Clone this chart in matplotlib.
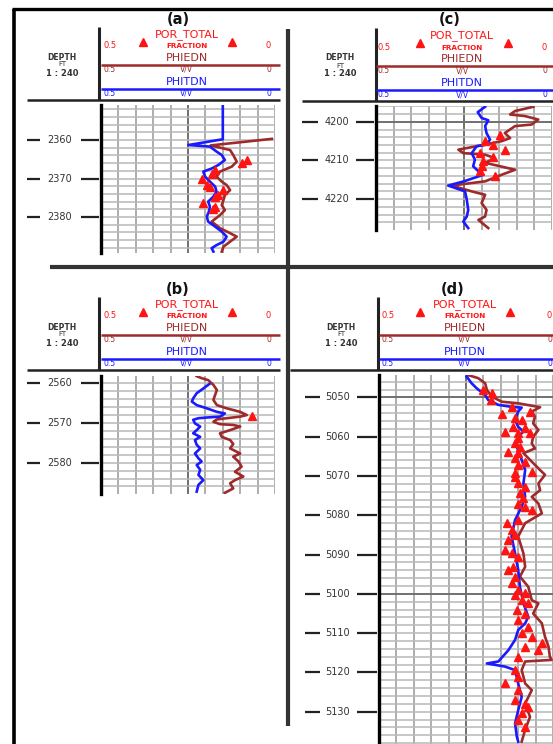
import numpy as np
import matplotlib
matplotlib.use("Agg")
import matplotlib.pyplot as plt
from matplotlib.transforms import blended_transform_factory

# --- DATA: porosity logs (v/v, depth in ft) ---
# (a)
A_PHIT_DEPTH = [2350.9, 2359.8, 2361.3, 2361.7, 2363.0, 2363.9, 2365.2, 2366.5, 2367.4, 2368.2,
                2369.5, 2370.8, 2372.1, 2373.4, 2374.7, 2376.0, 2377.3, 2378.6, 2379.9, 2381.2,
                2382.5, 2383.8, 2385.1, 2386.4, 2387.3, 2388.1, 2389.0]
A_PHIT = [0.150, 0.150, 0.249, 0.187, 0.168, 0.153, 0.144, 0.163, 0.182, 0.206,
          0.201, 0.187, 0.172, 0.168, 0.177, 0.192, 0.187, 0.190, 0.196, 0.192,
          0.172, 0.153, 0.139, 0.148, 0.168, 0.182, 0.177]
A_PHIE_DEPTH = [2359.7, 2361.4, 2362.6, 2363.9, 2365.6, 2366.9, 2368.2, 2369.5, 2370.8, 2371.7,
                2373.0, 2374.3, 2375.6, 2376.9, 2378.2, 2379.5, 2381.2, 2382.9, 2384.2, 2385.1,
                2386.4, 2387.7, 2389.0]
A_PHIE = [0.009, 0.185, 0.129, 0.120, 0.110, 0.124, 0.158, 0.168, 0.153, 0.139,
          0.129, 0.144, 0.148, 0.153, 0.144, 0.158, 0.182, 0.158, 0.129, 0.110,
          0.129, 0.148, 0.153]
A_POR_DEPTH = [2365.2, 2365.9, 2367.8, 2368.7, 2370.2, 2371.7, 2372.3, 2373.0, 2374.3, 2374.9,
               2376.4, 2377.3, 2378.0]
A_POR = [0.081, 0.096, 0.172, 0.182, 0.211, 0.196, 0.187, 0.148, 0.163, 0.172,
         0.206, 0.172, 0.177]

# (b)
B_PHIT_DEPTH = [2560.2, 2561.3, 2562.5, 2563.8, 2564.6, 2565.5, 2566.3, 2567.2, 2567.6, 2568.4,
                2568.6, 2568.8, 2569.2, 2570.1, 2570.9, 2571.8, 2572.6, 2573.5, 2574.3, 2575.5,
                2576.4, 2577.7, 2578.9, 2579.7, 2580.6, 2581.8, 2583.1, 2584.4, 2585.6, 2587.3]
B_PHIT = [0.189, 0.206, 0.225, 0.235, 0.239, 0.225, 0.196, 0.167, 0.144, 0.158,
          0.192, 0.220, 0.235, 0.230, 0.215, 0.225, 0.235, 0.215, 0.230, 0.225,
          0.215, 0.230, 0.220, 0.211, 0.225, 0.215, 0.220, 0.206, 0.220, 0.225]
B_PHIE_DEPTH = [2558.2, 2558.7, 2559.2, 2560.4, 2561.7, 2562.9, 2564.2, 2565.5, 2566.3, 2567.2,
                2568.0, 2568.4, 2568.8, 2569.1, 2569.7, 2570.3, 2570.5, 2570.9, 2571.8, 2572.6,
                2573.5, 2574.3, 2575.3, 2576.4, 2577.7, 2578.5, 2579.7, 2581.0, 2582.3, 2583.5,
                2584.4, 2585.2, 2586.5, 2587.6]
B_PHIE = [0.225, 0.211, 0.192, 0.177, 0.167, 0.172, 0.177, 0.167, 0.139, 0.100,
          0.081, 0.100, 0.139, 0.167, 0.177, 0.158, 0.120, 0.100, 0.129, 0.158,
          0.153, 0.129, 0.120, 0.129, 0.100, 0.120, 0.105, 0.096, 0.115, 0.091,
          0.115, 0.129, 0.120, 0.144]
B_POR_DEPTH = [2568.2]
B_POR = [0.067]

# (c)
C_PHIT_DEPTH = [4196.1, 4197.5, 4199.0, 4199.6, 4201.1, 4202.9, 4204.6, 4205.9, 4206.3, 4208.1,
                4209.8, 4211.5, 4212.8, 4213.7, 4215.4, 4216.5, 4218.0, 4220.2, 4222.8, 4224.5,
                4225.8, 4227.5]
C_PHIT = [0.190, 0.211, 0.200, 0.181, 0.190, 0.186, 0.176, 0.186, 0.214, 0.228,
          0.219, 0.224, 0.209, 0.195, 0.250, 0.295, 0.247, 0.242, 0.238, 0.242,
          0.252, 0.238]
C_PHIE_DEPTH = [4196.1, 4197.2, 4198.1, 4198.5, 4199.4, 4200.7, 4201.1, 4202.9, 4204.2, 4205.0,
                4205.9, 4207.2, 4208.1, 4208.5, 4209.4, 4210.6, 4212.4, 4213.7, 4215.4, 4216.5,
                4218.0, 4218.9, 4221.0, 4222.8, 4224.5, 4225.4, 4227.5]
C_PHIE = [0.053, 0.105, 0.119, 0.077, 0.039, 0.058, 0.105, 0.134, 0.119, 0.143,
          0.190, 0.266, 0.252, 0.190, 0.162, 0.190, 0.105, 0.143, 0.190, 0.285,
          0.228, 0.190, 0.200, 0.186, 0.190, 0.209, 0.181]
C_POR_DEPTH = [4203.3, 4205.0, 4205.9, 4207.2, 4208.1, 4209.1, 4210.2, 4211.5, 4212.8, 4213.9]
C_POR = [0.148, 0.190, 0.167, 0.134, 0.205, 0.167, 0.195, 0.200, 0.205, 0.162]

# (d)
D_PHIT_DEPTH = [5044.7, 5046.4, 5047.7, 5049.4, 5050.7, 5051.9, 5052.4, 5052.6, 5053.6, 5055.8,
                5057.5, 5058.7, 5060.0, 5061.7, 5063.4, 5065.9, 5068.5, 5071.9, 5075.3, 5077.8,
                5081.2, 5085.4, 5089.7, 5093.9, 5098.2, 5102.4, 5105.8, 5107.5, 5109.2, 5111.7,
                5114.3, 5117.2, 5117.7, 5118.5, 5119.4, 5122.8, 5126.2, 5129.6, 5133.0, 5136.3,
                5137.6]
D_PHIT = [0.248, 0.234, 0.219, 0.195, 0.186, 0.157, 0.119, 0.090, 0.100, 0.109,
          0.100, 0.085, 0.100, 0.109, 0.100, 0.090, 0.080, 0.085, 0.080, 0.090,
          0.109, 0.119, 0.109, 0.100, 0.095, 0.085, 0.071, 0.080, 0.100, 0.109,
          0.128, 0.157, 0.190, 0.138, 0.109, 0.100, 0.090, 0.100, 0.109, 0.104,
          0.100]
D_PHIE_DEPTH = [5044.3, 5045.1, 5046.4, 5048.1, 5049.8, 5051.1, 5051.5, 5052.5, 5053.6, 5054.9,
                5056.6, 5058.3, 5060.0, 5061.7, 5063.0, 5064.2, 5065.9, 5068.5, 5069.7, 5071.9,
                5073.6, 5075.3, 5077.0, 5079.5, 5082.0, 5085.4, 5089.7, 5093.1, 5095.6, 5098.2,
                5101.6, 5102.4, 5105.0, 5107.5, 5110.9, 5113.4, 5116.0, 5116.8, 5117.2, 5119.4,
                5122.8, 5124.5, 5127.9, 5131.3, 5134.6, 5137.6]
D_PHIE = [0.245, 0.215, 0.195, 0.190, 0.176, 0.147, 0.100, 0.037, 0.061, 0.052,
          0.057, 0.042, 0.057, 0.061, 0.052, 0.085, 0.066, 0.037, 0.023, 0.042,
          0.037, 0.061, 0.042, 0.032, 0.080, 0.100, 0.085, 0.080, 0.095, 0.071,
          0.061, 0.042, 0.057, 0.032, 0.023, 0.013, 0.009, 0.004, 0.080, 0.090,
          0.080, 0.061, 0.080, 0.066, 0.080, 0.090]
D_POR_DEPTH = [5048.1, 5049.0, 5050.7, 5052.4, 5053.6, 5054.3, 5055.3, 5055.8, 5057.5, 5057.9,
               5058.7, 5059.1, 5059.1, 5060.4, 5061.7, 5062.5, 5063.8, 5064.2, 5065.5, 5066.4,
               5067.2, 5068.9, 5069.3, 5070.2, 5071.9, 5072.7, 5074.4, 5075.7, 5077.0, 5077.8,
               5078.7, 5081.2, 5082.0, 5083.7, 5085.0, 5086.3, 5088.8, 5089.7, 5090.5, 5093.1,
               5093.9, 5095.6, 5097.3, 5099.0, 5099.9, 5100.3, 5101.6, 5102.4, 5104.1, 5105.0,
               5106.6, 5108.3, 5110.0, 5110.9, 5112.6, 5113.4, 5114.3, 5116.0, 5119.4, 5121.1,
               5122.8, 5124.5, 5127.0, 5127.9, 5128.7, 5130.4, 5132.1, 5133.8]
D_POR = [0.200, 0.176, 0.178, 0.119, 0.066, 0.147, 0.109, 0.090, 0.114, 0.080,
         0.138, 0.100, 0.066, 0.100, 0.109, 0.095, 0.128, 0.100, 0.109, 0.080,
         0.100, 0.061, 0.109, 0.109, 0.100, 0.080, 0.095, 0.085, 0.100, 0.080,
         0.061, 0.100, 0.133, 0.119, 0.109, 0.128, 0.138, 0.119, 0.100, 0.114,
         0.128, 0.109, 0.119, 0.100, 0.080, 0.109, 0.090, 0.071, 0.104, 0.080,
         0.100, 0.071, 0.090, 0.061, 0.032, 0.080, 0.042, 0.100, 0.109, 0.100,
         0.138, 0.100, 0.109, 0.080, 0.071, 0.090, 0.100, 0.080]

# --- STYLE ---
RED = "#ff1414"
BROWN = "#9e2a2b"
BLUE = "#1a1aff"
INK = "#222222"

W, H = 553, 744
fig = plt.figure(figsize=(W / 100, H / 100), dpi=100)

# full-figure overlay in pixel units for frame + headers
bg = fig.add_axes([0, 0, 1, 1], zorder=0)
bg.set_xlim(0, W)
bg.set_ylim(H, 0)
bg.axis("off")

# outer frame and dividers
bg.plot([13.5, 13.5], [8.5, H], color="black", lw=2.6, solid_capstyle="butt")
bg.plot([12, W], [8.5, 8.5], color="black", lw=2.4, solid_capstyle="butt")
bg.plot([288, 288], [29, 726], color="#333333", lw=3.0, solid_capstyle="butt")
bg.plot([50, W], [267, 267], color="#333333", lw=3.0, solid_capstyle="butt")

PANELS = [
    dict(name="(a)", title=(178, 20), base=0, hline=(27, 280), vline=99,
         track=(101, 275, 105, 253), depth=(2350.9, 2389.35), ticks=[2360, 2370, 2380],
         cx=187, lx=103, rx=271, tri=(143, 232), dcx=62,
         dash_l=(27, 40), lab=60, dash_r=(81, 99),
         data=(A_PHIT_DEPTH, A_PHIT, A_PHIE_DEPTH, A_PHIE, A_POR_DEPTH, A_POR)),
    dict(name="(b)", title=(178, 290), base=270, hline=(27, 280), vline=99,
         track=(101, 275, 376, 494), depth=(2558.16, 2587.9), ticks=[2560, 2570, 2580],
         cx=187, lx=103, rx=271, tri=(143, 232), dcx=62,
         dash_l=(27, 40), lab=60, dash_r=(81, 99),
         data=(B_PHIT_DEPTH, B_PHIT, B_PHIE_DEPTH, B_PHIE, B_POR_DEPTH, B_POR)),
    dict(name="(c)", title=(450, 20), base=1, hline=(302, W), vline=376,
         track=(376, 552, 106, 230), depth=(4195.9, 4228.0), ticks=[4200, 4210, 4220],
         cx=462, lx=378, rx=547, tri=(420, 508), dcx=340,
         dash_l=(302, 318), lab=337, dash_r=(356, 374),
         data=(C_PHIT_DEPTH, C_PHIT, C_PHIE_DEPTH, C_PHIE, C_POR_DEPTH, C_POR)),
    dict(name="(d)", title=(453, 290), base=270, hline=(290, W), vline=378,
         track=(379, 553, 375, 744), depth=(5044.3, 5138.2),
         ticks=[5050, 5060, 5070, 5080, 5090, 5100, 5110, 5120, 5130],
         cx=465, lx=382, rx=552, tri=(420, 510), dcx=341,
         dash_l=(305, 320), lab=338, dash_r=(357, 377),
         data=(D_PHIT_DEPTH, D_PHIT, D_PHIE_DEPTH, D_PHIE, D_POR_DEPTH, D_POR)),
]


def draw_header(p):
    b = p["base"]
    x0, x1 = p["track"][0], p["hline"][1]
    bg.text(p["title"][0], p["title"][1], p["name"], ha="center", va="center",
            fontsize=10.5, fontweight="bold", color="#111111")
    # header frame
    bg.plot([p["vline"], p["vline"]], [27 + b, 100 + b], color=INK, lw=2.2, solid_capstyle="butt")
    bg.plot(list(p["hline"]), [100 + b, 100 + b], color=INK, lw=1.8, solid_capstyle="butt")
    # depth block
    bg.text(p["dcx"], 57 + b, "DEPTH", ha="center", va="center", fontsize=5.5,
            fontweight="bold", color="#333333")
    bg.text(p["dcx"], 64.5 + b, "FT", ha="center", va="center", fontsize=5.0, color="#333333")
    bg.text(p["dcx"], 73 + b, "1 : 240", ha="center", va="center", fontsize=6.0,
            fontweight="bold", color="#333333")
    # POR_TOTAL
    bg.text(p["cx"], 35 + b, "POR_TOTAL", ha="center", va="center", fontsize=8, color=RED)
    bg.plot(list(p["tri"]), [42 + b, 42 + b], ls="none", marker="^", ms=5.5, color=RED)
    bg.text(p["cx"], 46.5 + b, "FRACTION", ha="center", va="center", fontsize=5.2,
            fontweight="bold", color=RED)
    bg.text(p["lx"], 46 + b, "0.5", ha="left", va="center", fontsize=6, color=RED)
    bg.text(p["rx"], 46 + b, "0", ha="right", va="center", fontsize=6, color=RED)
    # PHIEDN / PHITDN
    for name, col, ty, ly, sy in [("PHIEDN", BROWN, 58, 64.5, 69.5),
                                  ("PHITDN", BLUE, 82, 89, 93.5)]:
        bg.text(p["cx"], ty + b, name, ha="center", va="center", fontsize=8, color=col)
        bg.plot([x0, x1], [ly + b, ly + b], color=col, lw=1.8, solid_capstyle="butt")
        bg.text(p["lx"], sy + b, "0.5", ha="left", va="center", fontsize=5.5, color=col)
        bg.text(p["cx"], sy + b, "V/V", ha="center", va="center", fontsize=5.5, color=col)
        bg.text(p["rx"], sy + b, "0", ha="right", va="center", fontsize=5.5, color=col)


def draw_track(p):
    tx0, tx1, ty0, ty1 = p["track"]
    ax = fig.add_axes([tx0 / W, 1 - ty1 / H, (tx1 - tx0) / W, (ty1 - ty0) / H], zorder=2)
    ax.patch.set_alpha(0)
    dtop, dbot = p["depth"]
    ax.set_xlim(0.5, 0.0)
    ax.set_ylim(dbot, dtop)
    ax.set_xticks([])
    ax.set_yticks([])
    for s in ["top", "right", "bottom"]:
        ax.spines[s].set_visible(False)
    ax.spines["left"].set_color("black")
    ax.spines["left"].set_linewidth(2.4)

    # grid: 0.05 v/v columns, 2 ft rows, darker every 50 ft
    for v in np.arange(0.0, 0.5, 0.05):
        mid = abs(v - 0.25) < 1e-6
        ax.axvline(v, color="#707070" if mid else "#a8a8a8", lw=1.4 if mid else 1.3, zorder=1)
    for d in np.arange(np.ceil(dtop / 2) * 2, dbot, 2):
        dark = d % 50 == 0
        ax.axhline(d, color="#707070" if dark else "#b8b8b8", lw=1.4 if dark else 1.1, zorder=1)

    phit_d, phit, phie_d, phie, por_d, por = p["data"]
    ax.plot(phie, phie_d, color=BROWN, lw=1.9, zorder=3, solid_joinstyle="round")
    ax.plot(phit, phit_d, color=BLUE, lw=1.9, zorder=4, solid_joinstyle="round")
    ax.plot(por, por_d, ls="none", marker="^", ms=5.8, color=RED, zorder=5)

    # depth labels with dashes on both sides
    trans = blended_transform_factory(bg.transData, ax.transData)
    for d in p["ticks"]:
        ax.plot(list(p["dash_l"]), [d, d], color=INK, lw=1.6, transform=trans,
                clip_on=False, solid_capstyle="butt")
        ax.plot(list(p["dash_r"]), [d, d], color=INK, lw=1.6, transform=trans,
                clip_on=False, solid_capstyle="butt")
        ax.text(p["lab"], d, str(d), transform=trans, ha="center", va="center",
                fontsize=7, color="#333333")


for p in PANELS:
    draw_header(p)
    draw_track(p)

fig.savefig("out.png", dpi=100)
